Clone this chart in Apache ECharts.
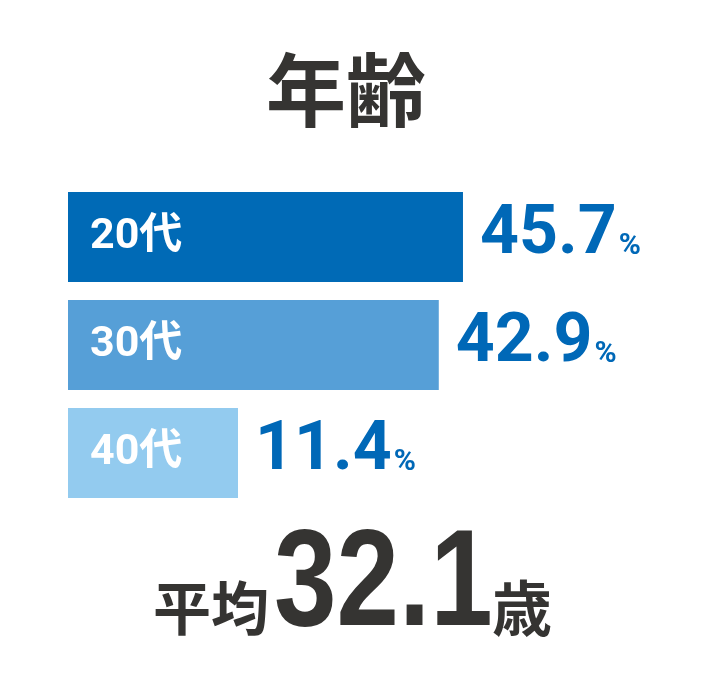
<!DOCTYPE html>
<html>
<head>
<meta charset="utf-8">
<script src="https://cdn.jsdelivr.net/npm/echarts@6/dist/echarts.min.js"></script>
<style>
  html, body { margin: 0; padding: 0; background: #fff; }
  #chart { width: 710px; height: 682px; }
</style>
</head>
<body>
<div id="chart"></div>
<script>
const ageGroups = ['20代', '30代', '40代']
const shares = [45.7, 42.9, 11.4]
const avgAge = '32.1'

const barColors = ['#006ab6', '#569fd7', '#93cbef']
const dark = '#353432'
const blue = '#0068b7'

const chart = echarts.init(document.getElementById('chart'))
window.addEventListener('resize', () => {
  chart.resize()
})

chart.setOption({
  animation: false,
  grid: {
    left: 68,
    top: 183,
    width: 605,
    height: 324
  },
  xAxis: {
    type: 'value',
    min: 0,
    max: 70,
    show: false
  },
  yAxis: {
    type: 'category',
    data: ageGroups,
    inverse: true,
    z: 10,
    axisLine: { show: false },
    axisTick: { show: false },
    splitLine: { show: false },
    axisLabel: {
      inside: true,
      margin: 22,
      color: '#fff',
      fontSize: 43,
      fontWeight: 'bold',
      fontFamily: 'Roboto, "Noto Sans CJK JP"'
    }
  },
  series: [
    {
      type: 'bar',
      barWidth: 90,
      barMinHeight: 170,
      data: shares.map((v, i) => ({
        value: v,
        itemStyle: { color: barColors[i] }
      })),
      label: {
        show: true,
        position: 'right',
        distance: 17,
        offset: [0, -1],
        formatter: '{v|{c}}{p|%}',
        rich: {
          v: {
            fontSize: 68,
            lineHeight: 68,
            fontWeight: 'bold',
            fontFamily: 'Roboto',
            color: blue
          },
          p: {
            fontSize: 30,
            lineHeight: 30,
            verticalAlign: 'bottom',
            fontWeight: 'bold',
            fontFamily: 'Roboto',
            color: blue,
            padding: [0, 0, 9, 2]
          }
        }
      }
    }
  ],
  graphic: [
    {
      type: 'text',
      x: 266,
      y: 90,
      style: {
        text: '年齢',
        font: 'bold 80px "Noto Sans CJK JP"',
        fill: dark,
        textAlign: 'left',
        textVerticalAlign: 'middle'
      }
    },
    {
      type: 'text',
      x: 153,
      y: 608,
      style: {
        text: '平均',
        font: 'bold 58px "Noto Sans CJK JP"',
        fill: dark,
        textAlign: 'left',
        textVerticalAlign: 'middle'
      }
    },
    {
      type: 'text',
      x: 274,
      y: 587,
      scaleX: 0.82,
      style: {
        text: avgAge,
        font: 'bold 137px "Liberation Sans"',
        fill: dark,
        textAlign: 'left',
        textVerticalAlign: 'middle'
      }
    },
    {
      type: 'text',
      x: 492,
      y: 608,
      style: {
        text: '歳',
        font: 'bold 60px "Noto Sans CJK JP"',
        fill: dark,
        textAlign: 'left',
        textVerticalAlign: 'middle'
      }
    }
  ]
})
</script>
</body>
</html>
